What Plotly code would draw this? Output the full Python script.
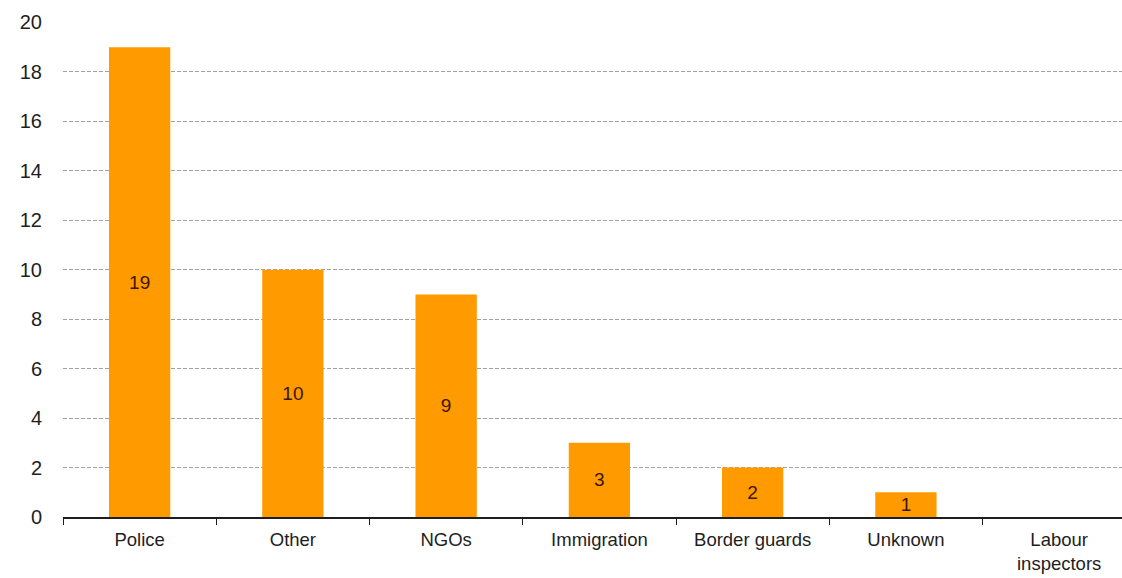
import plotly.graph_objects as go

categories = ["Police", "Other", "NGOs", "Immigration", "Border guards", "Unknown", "Labour<br>inspectors"]
values = [19, 10, 9, 3, 2, 1, 0]
y_ticks = [0, 2, 4, 6, 8, 10, 12, 14, 16, 18, 20]

labels = [str(v) if v else "" for v in values]

fig = go.Figure(
    go.Bar(
        x=categories,
        y=values,
        text=labels,
        textposition="inside",
        insidetextanchor="middle",
        textangle=0,
        constraintext="none",
        textfont=dict(family="Liberation Sans, Arial", size=19, color="#3d1500"),
        marker=dict(color="#FF9A00", line=dict(width=0)),
        width=0.4,
        cliponaxis=False,
    )
)

fig.update_layout(
    width=1122,
    height=578,
    margin=dict(l=63, r=0, t=22, b=61),
    paper_bgcolor="white",
    plot_bgcolor="white",
    showlegend=False,
    font=dict(family="Liberation Sans, Arial", size=20, color="#1e1e1e"),
)

fig.update_xaxes(
    range=[-0.5, 6.41],
    automargin=False,
    showline=True,
    linecolor="#1e1e1e",
    linewidth=1.5,
    ticks="outside",
    tickson="boundaries",
    ticklen=6,
    tickcolor="#1e1e1e",
    showgrid=False,
    ticklabelstandoff=5,
    tickfont=dict(size=18.5, color="#1e1e1e"),
    fixedrange=True,
)

fig.update_yaxes(
    range=[0, 20.02],
    automargin=False,
    tickvals=y_ticks,
    showgrid=True,
    gridcolor="#a3a3a3",
    gridwidth=1,
    griddash="4px,2px",
    zeroline=False,
    showline=False,
    ticks="",
    ticklabelstandoff=20,
    tickfont=dict(size=20, color="#1e1e1e"),
    fixedrange=True,
)

fig.write_html("out.html")
